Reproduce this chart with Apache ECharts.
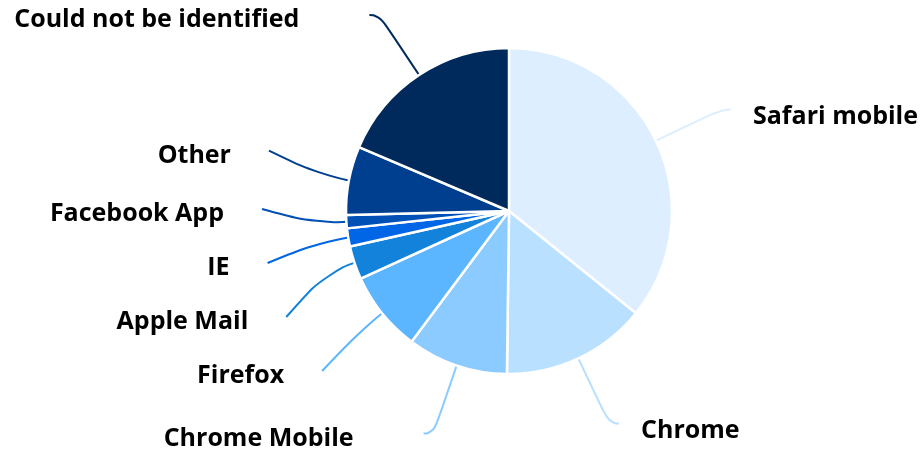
<!DOCTYPE html>
<html><head><meta charset="utf-8">
<script src="https://cdn.jsdelivr.net/npm/echarts@6/dist/echarts.min.js"></script>
<style>html,body{margin:0;padding:0;background:#fff}#c{width:921px;height:452px}</style>
</head><body><div id="c"></div>
<script>
const categories = ['Safari mobile','Chrome','Chrome Mobile','Firefox','Apple Mail','IE','Facebook App','Other','Could not be identified'];
const values = [35.8, 14.4, 10.0, 8.0, 3.3, 1.8, 1.3, 6.8, 18.6];
const colors = ['#dceeff','#bae0ff','#8ccbff','#5cb5ff','#1282da','#0066e6','#0050b5','#003f8f','#002a5c'];
const CX = 509, CY = 211, LEN = 72, LEN2 = 10;
const chart = echarts.init(document.getElementById('c'));
chart.setOption({
  animation:false,
  series:[{
    type:'pie',
    center:[CX,CY],
    radius:[0,163],
    startAngle:90,
    clockwise:true,
    data:categories.map((n,i)=>({name:n,value:values[i],itemStyle:{color:colors[i]},labelLine:{lineStyle:{color:colors[i]}}})),
    itemStyle:{borderColor:'#fff',borderWidth:2.5},
    label:{color:'#000',fontFamily:'Open Sans',fontWeight:'bold',fontSize:25,lineHeight:40,overflow:'none',formatter:'{b}',distanceToLabelLine:30,padding:[12,0,0,0]},
    labelLine:{show:true,smooth:0.6,length:LEN,length2:LEN2,lineStyle:{width:2}},
    labelLayout: function(params){
      const pts = params.labelLinePoints;
      if (!pts) return {};
      const p0 = pts[0], p2 = pts[2];
      if (p2[0] >= CX) return {dx:-8, dy:7};
      const vx = p0[0]-CX, vy = p0[1]-CY, r0 = Math.hypot(vx, vy);
      const ang = Math.atan2(Math.abs(vy), Math.abs(vx));
      if (ang < Math.PI/4) {
        const q2 = [p2[0]-32, p2[1]];
        const q1 = [p0[0]+vx/r0*30, p0[1]+vy/r0*30];
        return {dx:-40, dy:5, labelLinePoints:[p0,q1,q2]};
      }
      const q1 = [p0[0]+vx/r0*LEN, p0[1]+vy/r0*LEN];
      const q2 = [q1[0]-LEN2, q1[1]];
      return {dx:-40 + (q2[0]-p2[0]), dy:5 + (q2[1]-p2[1]), labelLinePoints:[p0,q1,q2]};
    }
  }]
});
</script></body></html>
